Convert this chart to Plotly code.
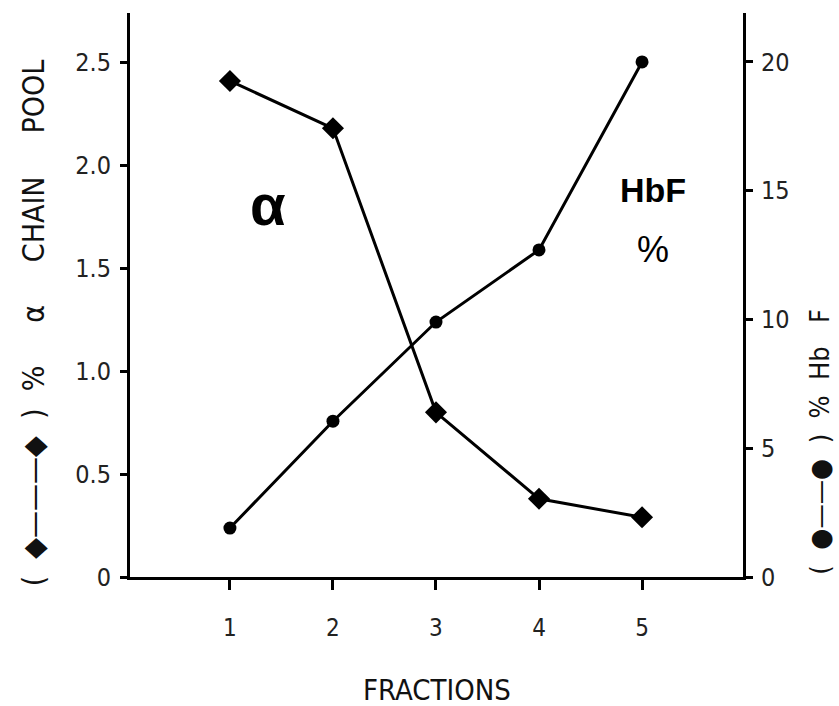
import plotly.graph_objects as go

fractions = [1, 2, 3, 4, 5]
alpha_pool = [2.41, 2.18, 0.80, 0.38, 0.29]
hbf_pct = [1.9, 6.05, 9.9, 12.7, 20.0]

x_ticks = [1, 2, 3, 4, 5]
left_ticks = [0, 0.5, 1.0, 1.5, 2.0, 2.5]
left_labels = ["0", "0.5", "1.0", "1.5", "2.0", "2.5"]
right_ticks = [0, 5, 10, 15, 20]
right_labels = ["0", "5", "10", "15", "20"]

FONT = "DejaVu Sans Condensed, sans-serif"
BOLD = "Liberation Sans, Arial, sans-serif"

fig = go.Figure()
fig.add_trace(go.Scatter(
    x=fractions, y=alpha_pool, mode="lines+markers",
    line=dict(color="black", width=3),
    marker=dict(symbol="diamond", size=17, color="black"),
    yaxis="y", showlegend=False))
fig.add_trace(go.Scatter(
    x=fractions, y=hbf_pct, mode="lines+markers",
    line=dict(color="black", width=3),
    marker=dict(symbol="circle", size=13, color="black"),
    yaxis="y2", showlegend=False))

fig.update_layout(
    width=839, height=706,
    margin=dict(l=130, r=96, t=13, b=129),
    plot_bgcolor="white", paper_bgcolor="white",
    font=dict(family=FONT, color="#222"),
    xaxis=dict(range=[0.03, 5.98], tickvals=x_ticks, ticktext=[str(v) for v in x_ticks],
               showline=True, linecolor="black", linewidth=3, mirror=False,
               ticks="outside", ticklen=10, tickwidth=2.5, tickcolor="black",
               ticklabelstandoff=17,
               showgrid=False, zeroline=False, tickfont=dict(size=24, family=FONT, color="#222")),
    yaxis=dict(range=[0, 2.74], tickvals=left_ticks, ticktext=left_labels,
               showline=True, linecolor="black", linewidth=3,
               ticks="outside", ticklen=7, tickwidth=2.5, tickcolor="black",
               ticklabelstandoff=4,
               showgrid=False, zeroline=False, tickfont=dict(size=25, family=FONT, color="#222")),
    yaxis2=dict(range=[0, 21.9], tickvals=right_ticks, ticktext=right_labels,
                overlaying="y", side="right",
                showline=True, linecolor="black", linewidth=3,
                ticks="outside", ticklen=7, tickwidth=2.5, tickcolor="black",
                ticklabelstandoff=3,
                showgrid=False, zeroline=False, tickfont=dict(size=25, family=FONT, color="#222")),
)

fig.add_annotation(x=0.5, y=-0.20, xref="paper", yref="paper", text="FRACTIONS",
                   showarrow=False, xanchor="center", yanchor="middle",
                   font=dict(size=29, family=FONT, color="#111"))

fig.add_annotation(x=1.37, y=1.81, xref="x", yref="y", text="<b>α</b>", showarrow=False,
                   font=dict(size=58, family=BOLD, color="black"))
fig.add_annotation(x=5.11, y=1.88, xref="x", yref="y", text="<b>HbF</b>", showarrow=False,
                   font=dict(size=34, family=BOLD, color="black"))
fig.add_annotation(x=5.11, y=1.59, xref="x", yref="y", text="%", showarrow=False,
                   font=dict(size=36, family=BOLD, color="black"))

fig.add_annotation(x=-0.158, y=0.45, xref="paper", yref="paper",
                   xanchor="center", yanchor="middle",
                   text="(  ◆———◆  )  %     α     CHAIN     POOL", textangle=-90, showarrow=False,
                   font=dict(size=30, family=FONT, color="#111"))
fig.add_annotation(x=1.1256, y=0.24, xref="paper", yref="paper",
                   xanchor="center", yanchor="middle",
                   text="(  ●——●  )  %  Hb   F", textangle=-90, showarrow=False,
                   font=dict(size=27, family=FONT, color="#111"))

fig.write_html("out.html")
